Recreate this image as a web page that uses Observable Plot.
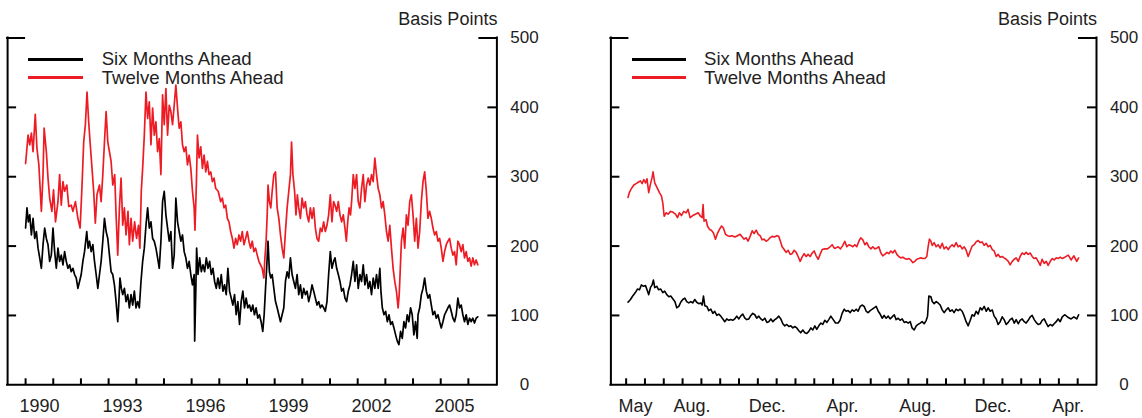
<!DOCTYPE html>
<html>
<head>
<meta charset="utf-8">
<script src="https://cdn.jsdelivr.net/npm/d3@7"></script>
<script src="https://cdn.jsdelivr.net/npm/@observablehq/plot@0.6"></script>
<style>
  body { margin: 0; background: #fff; font-family: "Liberation Sans", Arial, sans-serif; }
  #wrap { position: relative; width: 1142px; height: 418px; overflow: hidden; background: #fff; }
  .panel { position: absolute; top: 0; }
  .legend { position: absolute; font-size: 18.6px; line-height: 18.3px; color: #222; white-space: nowrap; }
  .row { display: flex; align-items: center; height: 18.3px; }
  .sw { display: inline-block; height: 2.5px; }
  .lt { display: inline-block; height: 18.3px; line-height: 18.3px; overflow: visible; }
</style>
</head>
<body>
<div id="wrap"></div>
<script>
// ---------- data ----------
const seriesNames = ["Six Months Ahead", "Twelve Months Ahead"];
const seriesColors = ["#000000", "#ed1c24"];

// left panel: [decimal year, basis points]
const sixLong = [[1990.00,226],[1990.05,255],[1990.10,235],[1990.15,245],[1990.21,216],[1990.27,240],[1990.33,211],[1990.39,221],[1990.45,197],[1990.51,183],[1990.57,168],[1990.63,202],[1990.69,226],[1990.75,211],[1990.81,202],[1990.87,178],[1990.93,187],[1990.99,226],[1991.05,192],[1991.11,168],[1991.17,197],[1991.23,178],[1991.29,187],[1991.35,173],[1991.41,192],[1991.47,178],[1991.53,168],[1991.59,173],[1991.65,163],[1991.71,168],[1991.77,159],[1991.83,154],[1991.89,139],[1991.95,149],[1992.01,159],[1992.07,178],[1992.13,192],[1992.21,221],[1992.26,197],[1992.31,207],[1992.37,192],[1992.43,202],[1992.49,178],[1992.55,159],[1992.61,139],[1992.67,159],[1992.73,178],[1992.79,207],[1992.85,240],[1992.91,221],[1992.97,211],[1993.03,187],[1993.09,163],[1993.15,159],[1993.21,144],[1993.27,120],[1993.33,91],[1993.36,111],[1993.41,154],[1993.46,139],[1993.51,130],[1993.57,139],[1993.63,120],[1993.69,130],[1993.75,111],[1993.81,130],[1993.87,115],[1993.93,135],[1993.99,111],[1994.05,120],[1994.11,111],[1994.17,149],[1994.23,178],[1994.29,197],[1994.35,230],[1994.41,255],[1994.47,226],[1994.53,235],[1994.59,211],[1994.65,207],[1994.71,197],[1994.77,183],[1994.83,168],[1994.89,207],[1994.95,264],[1995.01,279],[1995.07,245],[1995.13,226],[1995.19,207],[1995.25,221],[1995.31,168],[1995.37,187],[1995.43,269],[1995.49,235],[1995.55,221],[1995.61,207],[1995.67,216],[1995.73,192],[1995.79,183],[1995.85,168],[1995.91,178],[1995.97,159],[1996.03,144],[1996.09,159],[1996.11,63],[1996.15,135],[1996.18,197],[1996.23,159],[1996.29,183],[1996.35,163],[1996.41,173],[1996.47,163],[1996.53,183],[1996.59,168],[1996.65,178],[1996.71,159],[1996.77,168],[1996.83,149],[1996.89,139],[1996.95,154],[1997.01,139],[1997.07,159],[1997.13,135],[1997.19,144],[1997.25,130],[1997.31,168],[1997.37,135],[1997.43,125],[1997.49,115],[1997.55,130],[1997.61,101],[1997.67,120],[1997.73,87],[1997.79,120],[1997.85,135],[1997.91,111],[1997.97,125],[1998.03,111],[1998.09,115],[1998.15,106],[1998.21,115],[1998.27,101],[1998.33,111],[1998.39,96],[1998.45,101],[1998.51,91],[1998.57,77],[1998.62,101],[1998.67,139],[1998.71,168],[1998.76,207],[1998.81,163],[1998.86,154],[1998.91,159],[1998.97,139],[1999.03,120],[1999.09,111],[1999.15,101],[1999.21,91],[1999.27,101],[1999.33,111],[1999.39,149],[1999.45,163],[1999.51,154],[1999.57,183],[1999.63,159],[1999.69,149],[1999.75,139],[1999.81,159],[1999.87,130],[1999.93,144],[1999.99,125],[2000.05,139],[2000.11,130],[2000.17,135],[2000.23,120],[2000.29,130],[2000.35,144],[2000.41,135],[2000.47,125],[2000.53,115],[2000.59,120],[2000.65,111],[2000.71,115],[2000.77,111],[2000.83,106],[2000.89,120],[2000.95,159],[2001.01,192],[2001.07,168],[2001.13,178],[2001.18,183],[2001.24,168],[2001.30,159],[2001.36,149],[2001.42,135],[2001.48,139],[2001.54,125],[2001.60,120],[2001.66,135],[2001.72,144],[2001.78,159],[2001.84,178],[2001.90,149],[2001.96,173],[2002.02,139],[2002.08,159],[2002.14,149],[2002.20,173],[2002.26,144],[2002.32,159],[2002.38,139],[2002.44,149],[2002.50,130],[2002.56,154],[2002.62,139],[2002.68,159],[2002.74,139],[2002.80,168],[2002.84,135],[2002.89,111],[2002.95,101],[2003.01,106],[2003.07,91],[2003.13,101],[2003.19,87],[2003.25,91],[2003.31,82],[2003.37,72],[2003.43,63],[2003.49,58],[2003.55,77],[2003.61,67],[2003.67,91],[2003.73,82],[2003.79,101],[2003.85,91],[2003.91,111],[2003.97,101],[2004.03,72],[2004.09,91],[2004.15,67],[2004.18,101],[2004.24,111],[2004.30,130],[2004.36,139],[2004.42,154],[2004.48,135],[2004.54,125],[2004.60,130],[2004.66,115],[2004.72,101],[2004.78,106],[2004.84,96],[2004.90,101],[2004.96,91],[2005.02,82],[2005.08,91],[2005.14,101],[2005.20,106],[2005.26,111],[2005.32,115],[2005.38,106],[2005.44,96],[2005.50,91],[2005.56,101],[2005.62,125],[2005.68,111],[2005.74,115],[2005.80,101],[2005.86,91],[2005.92,101],[2005.98,87],[2006.04,96],[2006.10,91],[2006.16,96],[2006.22,89],[2006.28,96],[2006.34,98]];

const twelveLong = [[1990.00,319],[1990.09,360],[1990.15,346],[1990.21,363],[1990.27,336],[1990.35,390],[1990.41,341],[1990.48,317],[1990.57,250],[1990.63,303],[1990.67,370],[1990.75,336],[1990.81,298],[1990.87,269],[1990.95,250],[1991.01,281],[1991.08,235],[1991.17,264],[1991.23,303],[1991.29,259],[1991.35,293],[1991.41,279],[1991.49,288],[1991.56,257],[1991.65,259],[1991.71,250],[1991.80,264],[1991.89,240],[1991.97,226],[1992.04,288],[1992.10,350],[1992.16,375],[1992.22,422],[1992.28,379],[1992.33,350],[1992.40,312],[1992.46,279],[1992.52,233],[1992.58,274],[1992.67,288],[1992.73,264],[1992.79,303],[1992.85,350],[1992.91,394],[1992.97,350],[1993.03,336],[1993.09,322],[1993.15,288],[1993.22,303],[1993.27,245],[1993.33,187],[1993.39,255],[1993.45,298],[1993.51,230],[1993.57,255],[1993.63,216],[1993.70,250],[1993.75,202],[1993.81,240],[1993.87,207],[1993.94,235],[1994.01,211],[1994.08,230],[1994.13,197],[1994.18,279],[1994.23,312],[1994.29,360],[1994.35,422],[1994.41,384],[1994.47,408],[1994.53,346],[1994.59,399],[1994.65,360],[1994.71,379],[1994.77,336],[1994.83,355],[1994.89,303],[1994.95,418],[1995.01,375],[1995.07,427],[1995.13,360],[1995.19,403],[1995.25,394],[1995.31,375],[1995.37,403],[1995.43,432],[1995.49,399],[1995.55,370],[1995.61,379],[1995.67,346],[1995.73,336],[1995.79,343],[1995.85,317],[1995.91,331],[1995.97,312],[1996.03,279],[1996.09,255],[1996.12,223],[1996.17,288],[1996.21,360],[1996.27,327],[1996.33,343],[1996.39,312],[1996.45,331],[1996.51,307],[1996.57,322],[1996.63,303],[1996.69,307],[1996.75,293],[1996.81,298],[1996.87,283],[1996.96,279],[1997.05,264],[1997.11,269],[1997.17,255],[1997.23,259],[1997.29,240],[1997.35,235],[1997.41,221],[1997.47,211],[1997.53,197],[1997.59,211],[1997.65,202],[1997.71,216],[1997.77,207],[1997.83,221],[1997.89,202],[1997.95,211],[1998.01,221],[1998.07,207],[1998.13,197],[1998.19,207],[1998.25,192],[1998.31,197],[1998.37,187],[1998.43,178],[1998.49,173],[1998.55,168],[1998.61,154],[1998.64,178],[1998.69,207],[1998.73,245],[1998.76,288],[1998.81,264],[1998.86,255],[1998.91,279],[1998.97,303],[1999.03,307],[1999.09,255],[1999.15,240],[1999.21,216],[1999.27,197],[1999.33,183],[1999.39,221],[1999.45,255],[1999.51,279],[1999.57,303],[1999.61,350],[1999.66,303],[1999.72,279],[1999.77,245],[1999.82,274],[1999.87,255],[1999.93,240],[1999.99,269],[2000.05,255],[2000.11,264],[2000.17,245],[2000.23,235],[2000.29,255],[2000.35,240],[2000.41,255],[2000.47,226],[2000.53,211],[2000.59,207],[2000.65,226],[2000.71,221],[2000.77,235],[2000.83,221],[2000.89,230],[2000.95,245],[2001.01,274],[2001.07,235],[2001.13,264],[2001.18,259],[2001.24,250],[2001.30,264],[2001.36,245],[2001.42,235],[2001.48,245],[2001.54,226],[2001.59,207],[2001.64,235],[2001.69,255],[2001.74,245],[2001.78,264],[2001.84,303],[2001.90,283],[2001.96,303],[2002.02,264],[2002.08,255],[2002.14,283],[2002.20,303],[2002.26,264],[2002.32,288],[2002.38,298],[2002.44,288],[2002.50,303],[2002.56,293],[2002.62,327],[2002.68,303],[2002.74,283],[2002.80,274],[2002.86,255],[2002.92,264],[2002.98,245],[2003.04,221],[2003.10,207],[2003.16,230],[2003.22,197],[2003.28,168],[2003.34,149],[2003.40,135],[2003.46,111],[2003.50,130],[2003.54,168],[2003.58,207],[2003.64,226],[2003.70,197],[2003.76,245],[2003.82,230],[2003.88,264],[2003.94,274],[2004.00,245],[2004.06,207],[2004.12,240],[2004.18,197],[2004.24,221],[2004.30,264],[2004.36,293],[2004.42,307],[2004.48,279],[2004.54,240],[2004.60,250],[2004.66,240],[2004.72,226],[2004.78,216],[2004.84,221],[2004.90,207],[2004.96,211],[2005.02,197],[2005.08,178],[2005.14,192],[2005.20,202],[2005.26,207],[2005.32,211],[2005.38,197],[2005.44,187],[2005.50,192],[2005.56,173],[2005.62,207],[2005.68,202],[2005.74,192],[2005.80,202],[2005.86,183],[2005.92,192],[2005.98,178],[2006.04,183],[2006.10,171],[2006.16,183],[2006.22,173],[2006.28,180],[2006.34,173]];

// right panel: [months since 1 May 2004, basis points]
const sixRecent = [[0.10,119],[0.23,123],[0.35,128],[0.49,133],[0.60,138],[0.71,137],[0.81,144],[0.92,142],[1.03,143],[1.11,137],[1.20,130],[1.29,140],[1.38,144],[1.45,151],[1.52,140],[1.63,142],[1.73,137],[1.84,138],[1.95,133],[2.05,135],[2.16,130],[2.27,127],[2.37,128],[2.48,124],[2.59,120],[2.69,111],[2.80,113],[2.90,119],[3.01,123],[3.12,125],[3.22,120],[3.33,118],[3.44,120],[3.54,118],[3.65,123],[3.75,119],[3.86,117],[3.97,118],[4.04,115],[4.11,128],[4.18,114],[4.29,113],[4.39,107],[4.50,109],[4.61,103],[4.71,106],[4.82,100],[4.92,102],[5.03,99],[5.14,95],[5.24,91],[5.35,95],[5.46,93],[5.56,94],[5.67,93],[5.77,95],[5.88,99],[5.99,95],[6.09,99],[6.20,102],[6.31,96],[6.41,94],[6.52,95],[6.63,100],[6.73,103],[6.84,101],[6.94,96],[7.05,99],[7.16,95],[7.26,93],[7.37,96],[7.48,90],[7.58,91],[7.69,95],[7.80,91],[7.90,94],[8.01,96],[8.11,99],[8.22,95],[8.33,88],[8.43,85],[8.54,87],[8.65,84],[8.75,85],[8.86,82],[8.96,84],[9.07,82],[9.18,78],[9.28,75],[9.39,79],[9.50,75],[9.60,74],[9.71,77],[9.82,82],[9.92,79],[10.03,85],[10.13,80],[10.24,85],[10.35,89],[10.45,87],[10.56,93],[10.67,90],[10.77,94],[10.88,99],[10.98,95],[11.13,89],[11.27,89],[11.37,93],[11.48,103],[11.59,109],[11.69,106],[11.80,107],[11.91,104],[12.01,108],[12.12,106],[12.23,109],[12.33,106],[12.44,113],[12.54,115],[12.65,113],[12.76,106],[12.86,104],[12.97,107],[13.08,109],[13.18,111],[13.29,113],[13.40,106],[13.50,102],[13.61,96],[13.71,100],[13.82,96],[13.93,99],[14.03,95],[14.14,98],[14.25,101],[14.35,94],[14.46,96],[14.56,93],[14.67,95],[14.78,90],[14.88,91],[14.99,89],[15.10,91],[15.20,82],[15.31,79],[15.42,85],[15.52,87],[15.63,89],[15.73,91],[15.84,88],[15.95,93],[16.02,99],[16.09,128],[16.20,127],[16.27,120],[16.37,117],[16.48,120],[16.58,118],[16.69,115],[16.80,108],[16.90,104],[17.01,108],[17.12,111],[17.22,106],[17.33,108],[17.43,104],[17.54,109],[17.65,107],[17.75,109],[17.86,106],[17.97,99],[18.07,91],[18.18,85],[18.29,93],[18.39,101],[18.50,99],[18.60,106],[18.71,102],[18.82,111],[18.92,108],[19.03,113],[19.14,106],[19.24,111],[19.35,106],[19.46,108],[19.56,99],[19.67,95],[19.77,87],[19.88,91],[19.99,98],[20.09,94],[20.20,87],[20.31,90],[20.41,94],[20.52,96],[20.63,89],[20.73,94],[20.84,88],[20.94,93],[21.05,95],[21.16,91],[21.26,89],[21.37,93],[21.48,98],[21.58,100],[21.69,94],[21.79,90],[21.90,87],[22.01,88],[22.11,93],[22.22,95],[22.33,89],[22.43,84],[22.54,87],[22.65,85],[22.75,88],[22.86,91],[22.96,95],[23.07,91],[23.18,98],[23.32,101],[23.50,97],[23.65,95],[23.80,98],[23.95,95],[24.05,101]];

const twelveRecent = [[0.10,270],[0.17,277],[0.28,283],[0.41,288],[0.53,290],[0.64,292],[0.76,294],[0.85,290],[0.94,296],[1.03,291],[1.11,297],[1.20,277],[1.29,289],[1.38,299],[1.43,307],[1.52,291],[1.65,284],[1.77,277],[1.88,272],[1.95,262],[2.02,243],[2.12,248],[2.23,246],[2.36,250],[2.48,249],[2.62,246],[2.73,241],[2.83,248],[2.94,244],[3.06,250],[3.19,248],[3.29,253],[3.40,241],[3.54,244],[3.68,246],[3.83,248],[3.95,243],[4.04,241],[4.09,260],[4.14,236],[4.25,238],[4.32,229],[4.43,224],[4.53,223],[4.64,219],[4.75,210],[4.85,218],[4.96,224],[5.07,229],[5.17,226],[5.28,217],[5.39,215],[5.49,214],[5.63,215],[5.78,213],[5.92,215],[6.06,217],[6.17,213],[6.27,210],[6.38,212],[6.48,207],[6.59,214],[6.70,222],[6.80,218],[6.91,223],[7.02,217],[7.12,215],[7.23,209],[7.33,210],[7.44,207],[7.55,209],[7.65,212],[7.76,214],[7.87,213],[8.01,215],[8.11,214],[8.20,207],[8.29,199],[8.40,195],[8.50,191],[8.61,194],[8.72,188],[8.82,189],[8.93,194],[9.04,191],[9.14,185],[9.25,178],[9.35,184],[9.46,189],[9.57,185],[9.67,188],[9.78,185],[9.89,190],[9.99,193],[10.10,186],[10.21,181],[10.31,188],[10.42,195],[10.56,196],[10.70,196],[10.84,199],[10.95,202],[11.06,197],[11.13,197],[11.27,199],[11.39,196],[11.52,201],[11.62,207],[11.73,199],[11.84,202],[11.94,201],[12.05,199],[12.15,202],[12.26,199],[12.37,207],[12.47,212],[12.58,209],[12.69,202],[12.79,205],[12.90,199],[13.01,196],[13.11,199],[13.22,196],[13.32,197],[13.43,199],[13.54,190],[13.64,186],[13.75,188],[13.86,191],[13.96,189],[14.07,193],[14.17,190],[14.28,194],[14.39,188],[14.49,185],[14.60,183],[14.71,184],[14.81,182],[14.92,181],[15.03,182],[15.13,180],[15.24,176],[15.34,178],[15.45,181],[15.56,182],[15.66,183],[15.77,182],[15.88,182],[15.98,185],[16.05,199],[16.12,210],[16.20,207],[16.27,201],[16.37,205],[16.48,199],[16.58,202],[16.69,197],[16.80,204],[16.90,196],[17.01,199],[17.12,195],[17.22,199],[17.33,202],[17.43,199],[17.54,205],[17.65,199],[17.75,201],[17.86,196],[17.97,199],[18.07,194],[18.18,185],[18.29,193],[18.39,200],[18.50,202],[18.60,206],[18.71,208],[18.82,205],[18.92,206],[19.03,201],[19.14,204],[19.24,199],[19.35,201],[19.46,195],[19.56,193],[19.67,185],[19.77,188],[19.88,184],[19.99,185],[20.09,183],[20.20,181],[20.31,178],[20.41,173],[20.52,178],[20.63,181],[20.73,183],[20.84,178],[20.94,185],[21.05,190],[21.16,188],[21.26,191],[21.37,188],[21.48,190],[21.58,185],[21.69,182],[21.79,183],[21.90,178],[22.01,172],[22.11,181],[22.22,175],[22.33,178],[22.43,172],[22.54,178],[22.65,182],[22.75,180],[22.86,183],[22.96,182],[23.07,184],[23.18,182],[23.32,184],[23.50,187],[23.65,180],[23.80,186],[23.95,178],[24.05,183]];

// axes
const yTickValues = [0, 100, 200, 300, 400, 500];
const yInnerTicks = [100, 200, 300, 400];
const yearTicks = d3.range(1990, 2007);
const yearLabels = ["1990", "1993", "1996", "1999", "2002", "2005"];
const yearLabelPos = [1990.5, 1993.5, 1996.5, 1999.5, 2002.5, 2005.5];
const monthTicks = d3.range(0, 25);
const monthLabels = ["May", "Aug.", "Dec.", "Apr.", "Aug.", "Dec.", "Apr."];
const monthLabelPos = [0.5, 3.5, 7.5, 11.5, 15.5, 19.5, 23.5];
const unitLabel = "Basis Points";

// ---------- drawing ----------
const W = 571, H = 418, MT = 37.5, MB = 33.7;
const FONT = "'Liberation Sans', Arial, Helvetica, sans-serif";

function panel({xDomain, six, twelve, xTicks, labelPos, labels, marginLeft, marginRight, lw}) {
  const innerW = W - marginLeft - marginRight;
  const innerH = H - MT - MB;
  const axis = {stroke: "#000", strokeWidth: 2, strokeLinecap: "square"};
  return Plot.plot({
    width: W, height: H,
    marginLeft, marginRight, marginTop: MT, marginBottom: MB,
    x: {type: "linear", domain: xDomain, axis: null},
    y: {domain: [0, 500], axis: null},
    style: {fontFamily: FONT, color: "#1e1e1e", background: "transparent", overflow: "visible"},
    marks: [
      Plot.line(twelve, {x: d => d[0], y: d => d[1], stroke: seriesColors[1], strokeWidth: lw, strokeLinejoin: "round"}),
      Plot.line(six, {x: d => d[0], y: d => d[1], stroke: seriesColors[0], strokeWidth: lw, strokeLinejoin: "round"}),
      Plot.ruleX(xDomain, axis),
      Plot.ruleY([0], axis),
      Plot.tickY(yInnerTicks, {y: d => d, insetRight: innerW - 9, ...axis, strokeLinecap: "butt"}),
      Plot.tickY(yInnerTicks, {y: d => d, insetLeft: innerW - 9, ...axis, strokeLinecap: "butt"}),
      Plot.tickY([500], {y: d => d, insetRight: innerW - 17, ...axis}),
      Plot.tickY([500], {y: d => d, insetLeft: innerW - 17, ...axis}),
      Plot.tickX(xTicks, {x: d => d, insetTop: innerH - 6, ...axis, strokeLinecap: "butt"}),
      Plot.text(yTickValues, {y: d => d, text: d => String(d), frameAnchor: "right", dx: 27.6, textAnchor: "middle", fontSize: 17}),
      Plot.text(labelPos, {x: d => d, text: (d, i) => labels[i], frameAnchor: "bottom", dy: 27.4, lineAnchor: "bottom", fontSize: 18}),
      Plot.text([unitLabel], {text: d => d, frameAnchor: "top-right", dx: 0.5, dy: -13.5, textAnchor: "end", lineAnchor: "bottom", fontSize: 18})
    ]
  });
}

function legend(left, top, swatchW, gap) {
  const div = document.createElement("div");
  div.className = "legend";
  div.style.left = left + "px";
  div.style.top = top + "px";
  seriesNames.forEach((name, i) => {
    const row = document.createElement("div");
    row.className = "row";
    const sw = document.createElement("span");
    sw.className = "sw";
    sw.style.width = swatchW + "px";
    sw.style.marginRight = gap + "px";
    sw.style.background = seriesColors[i];
    const lt = document.createElement("span");
    lt.className = "lt";
    lt.textContent = name;
    row.appendChild(sw);
    row.appendChild(lt);
    div.appendChild(row);
  });
  return div;
}

const wrap = document.getElementById("wrap");

const left = panel({
  xDomain: [1989.35, 2007.03], six: sixLong, twelve: twelveLong,
  xTicks: yearTicks, labelPos: yearLabelPos, labels: yearLabels,
  marginLeft: 7.1, marginRight: 74.6, lw: 1.7
});
left.classList.add("panel");
left.style.left = "0px";
wrap.appendChild(left);

const right = panel({
  xDomain: [-0.81, 25.0], six: sixRecent, twelve: twelveRecent,
  xTicks: monthTicks, labelPos: monthLabelPos, labels: monthLabels,
  marginLeft: 39.4, marginRight: 46, lw: 1.6
});
right.classList.add("panel");
right.style.left = "571px";
wrap.appendChild(right);

wrap.appendChild(legend(28.3, 50.3, 54.4, 19));
wrap.appendChild(legend(631.7, 50.3, 54.8, 17.5));
</script>
</body>
</html>
